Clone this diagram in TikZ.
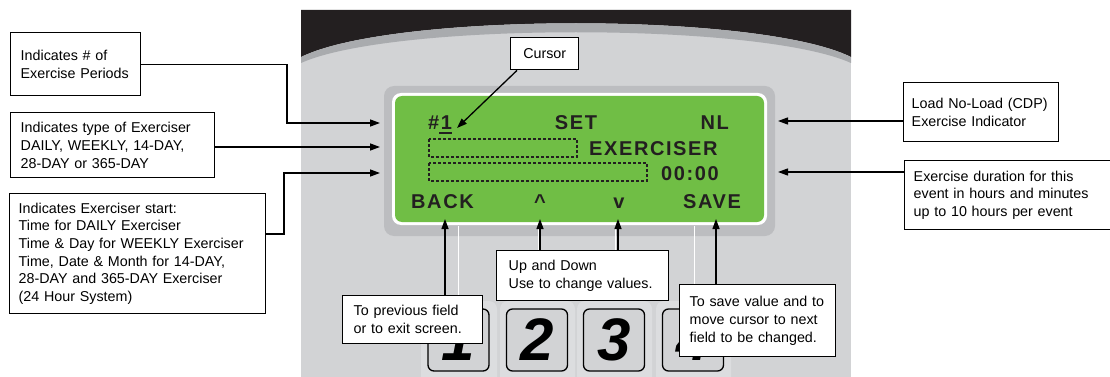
\documentclass[tikz,border=0pt]{standalone}
\usepackage{fontspec}
\setmainfont{Liberation Sans}
\newfontfamily\lcdfont{Liberation Sans}[LetterSpace=8]
\newfontfamily\keyfont{Liberation Sans}
\usetikzlibrary{arrows.meta}
\definecolor{panelgray}{HTML}{D2D3D5}
\definecolor{bandgray}{HTML}{A9ABAE}
\definecolor{bezelgray}{HTML}{BCBDC0}
\definecolor{padgray}{HTML}{DCDDDF}
\definecolor{topblack}{HTML}{231F20}
\definecolor{lcdgreen}{HTML}{70BE45}
\tikzset{
  lbl/.style={draw=black, line width=1.4pt, fill=white, align=left, anchor=north west,
    inner xsep=10pt, inner ysep=0pt, font=\fontsize{14.3}{17.7}\selectfont},
  conn/.style={draw=black, line width=1.3pt, -{Triangle[length=10pt,width=7pt]}},
  lcd/.style={inner sep=0pt, text=topblack, font=\lcdfont\bfseries\fontsize{20}{24}\selectfont},
  dashbox/.style={draw=topblack, line width=1.3pt, dash pattern=on 3pt off 2pt},
  keybox/.style={draw=black, line width=1.3pt, fill=panelgray, rounded corners=6pt,
    minimum width=61pt, minimum height=62pt, inner sep=0pt,
    font=\keyfont\bfseries\itshape\fontsize{60}{60}\selectfont},
  keypad/.style={fill=padgray, rounded corners=8pt},
  wline/.style={draw=white, line width=1pt}
}
\begin{document}
\begin{tikzpicture}[x=1pt,y=-1pt]
\useasboundingbox (0,0) rectangle (1110,377);
% panel
\fill[panelgray] (301,10) rectangle (851,377);
\fill[topblack] (301,10) -- (851,10) -- (851,57) .. controls (760,12) and (392,12) .. (301,57) -- cycle;
\fill[bandgray] (851,57) .. controls (760,12) and (392,12) .. (301,57) -- (301,63) .. controls (392,22) and (760,22) .. (851,63) -- cycle;
% bezel and screen
\fill[bezelgray, rounded corners=10pt] (384,86) rectangle (775,236);
\fill[white, rounded corners=9pt] (392,93) rectangle (767,225);
\fill[lcdgreen, rounded corners=7pt] (395,96) rectangle (764,222);
% white guide lines
\draw[wline] (458,226) -- (458,305);
\draw[wline] (538,226) -- (538,305);
\draw[wline] (615,226) -- (615,305);
\draw[wline] (694,226) -- (694,305);
% key pads
\fill[keypad] (421,301) rectangle (497,385);
\fill[keypad] (500,301) rectangle (575,385);
\fill[keypad] (577,301) rectangle (652,385);
\fill[keypad] (656,301) rectangle (731,385);
% keys
\node[keybox] (key1) at (458.5,340) {1};
\node[keybox] (key2) at (537,340) {2};
\node[keybox] (key3) at (614,340) {3};
\node[keybox] (key4) at (693,340) {4};
% screen text
\node[lcd, anchor=base west] (hash) at (428,129) {\#1};
\draw[topblack, line width=2pt] (439,133) -- (452,133);
\node[lcd, anchor=base] (set) at (576,129) {SET};
\node[lcd, anchor=base east] (nl) at (729,129) {NL};
\node[lcd, anchor=base west] (exer) at (589,155) {EXERCISER};
\node[lcd, anchor=base west] (time) at (661,180) {00:00};
\node[lcd, anchor=base west] (back) at (411,208) {BACK};
\node[lcd, anchor=base] (up) at (540,208) {\char`\^};
\node[lcd, anchor=base] (down) at (619,208) {v};
\node[lcd, anchor=base west] (save) at (683,208) {SAVE};
\draw[dashbox] (429,139) rectangle (577,157);
\draw[dashbox] (429,163) rectangle (647,181);
% label boxes
\node[lbl, text width=110pt, minimum height=63pt] (b1) at (10,32) {Indicates \# of\\Exercise Periods};
\node[lbl, text width=184pt, minimum height=65pt] (b2) at (10,112) {Indicates type of Exerciser\\DAILY, WEEKLY, 14-DAY,\\28-DAY or 365-DAY};
\node[lbl, inner xsep=9pt, text width=238pt, minimum height=120pt] (b3) at (9,193) {Indicates Exerciser start:\\Time for DAILY Exerciser\\Time \& Day for WEEKLY Exerciser\\Time, Date \& Month for 14-DAY,\\28-DAY and 365-DAY Exerciser\\(24 Hour System)};
\node[lbl, align=center, inner xsep=0pt, text width=68pt, minimum height=32pt] (cur) at (510,37) {Cursor};
\node[lbl, inner xsep=8pt, text width=139pt, minimum height=59pt] (nlbox) at (903,82) {Load No-Load (CDP)\\Exercise Indicator};
\node[lbl, inner xsep=9pt, text width=192pt, minimum height=69pt] (dur) at (904,160) {Exercise duration for this\\event in hours and minutes\\up to 10 hours per event};
\node[lbl, inner xsep=11pt, text width=118pt, minimum height=48pt] (bback) at (342,295) {To previous field\\or to exit screen.};
\node[lbl, inner xsep=12pt, text width=148pt, minimum height=50pt] (bup) at (496,250) {Up and Down\\Use to change values.};
\node[lbl, inner xsep=10pt, text width=136pt, minimum height=72pt] (bsave) at (679,284) {To save value and to\\move cursor to next\\field to be changed.};
% arrow tips and bends
\coordinate (t1) at (380,123);
\coordinate (t2) at (380,147);
\coordinate (t3) at (380,173);
\coordinate (k1) at (287,123);
\coordinate (k3) at (284,173);
\coordinate (s3) at (0,234);
\coordinate (tNL) at (778,121);
\coordinate (tDur) at (778,172);
\coordinate (tBack) at (445,219);
\coordinate (tUp) at (540,219);
\coordinate (tDown) at (618,219);
\coordinate (tSave) at (716,219);
\coordinate (tCur) at (457,128);
% connectors
\draw[conn] (b1.east) -| (k1) -- (t1);
\draw[conn] (b2.east |- t2) -- (t2);
\draw[conn] (b3.east |- s3) -| (k3) -- (t3);
\draw[conn] (nlbox.west |- tNL) -- (tNL);
\draw[conn] (dur.west |- tDur) -- (tDur);
\draw[conn] (bback.north -| tBack) -- (tBack);
\draw[conn] (bup.north -| tUp) -- (tUp);
\draw[conn] (bup.north -| tDown) -- (tDown);
\draw[conn] (bsave.north -| tSave) -- (tSave);
\draw[conn] ([xshift=7pt]cur.south west) -- (tCur);
\end{tikzpicture}
\end{document}
